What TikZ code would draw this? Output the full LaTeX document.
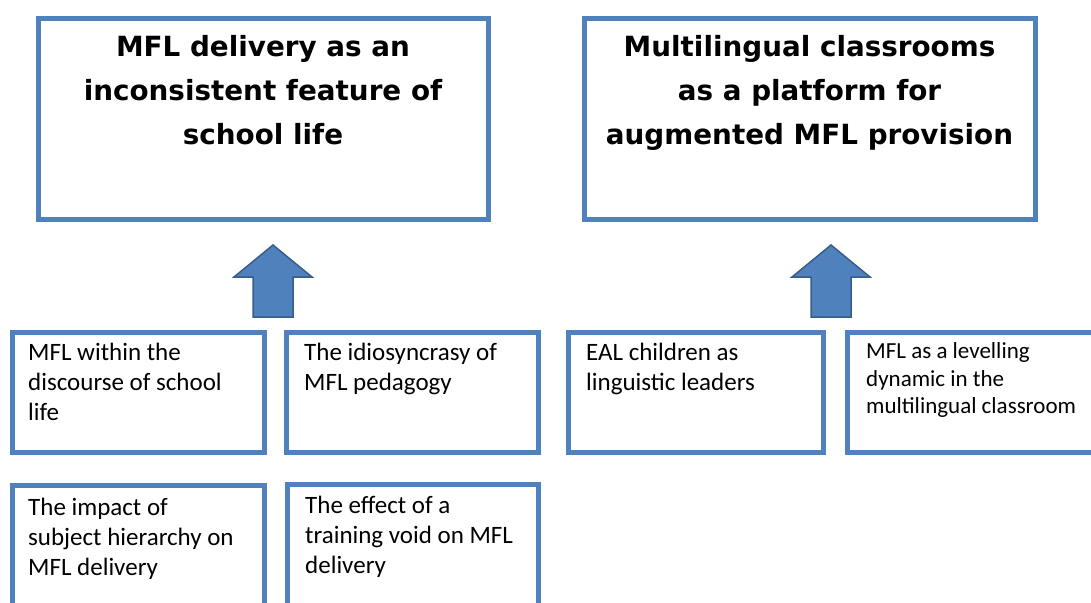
\documentclass[tikz,border=0pt]{standalone}
\usepackage{fontspec}
\setmainfont{Carlito}
\newfontfamily\headfont{DejaVu Sans}
\usepackage{tikz}
\usetikzlibrary{positioning}
\definecolor{boxblue}{HTML}{4F81BD}
\definecolor{arrowedge}{HTML}{385D8A}

\begin{document}
\begin{tikzpicture}[x=1pt,y=-1pt,
  themebox/.style={draw=boxblue,line width=5pt,rectangle,inner sep=0pt,outer sep=0pt,anchor=north west},
  headtext/.style={align=center,inner sep=0pt,font={\headfont\bfseries\fontsize{27.8}{44}\selectfont},execute at begin node=\strut},
  subtext/.style={align=left,inner sep=0pt,font={\fontsize{25}{30}\selectfont},execute at begin node=\strut},
  smalltext/.style={align=left,inner sep=0pt,font={\fontsize{23}{27.5}\selectfont},execute at begin node=\strut},
  uparrow/.style={fill=boxblue,draw=arrowedge,line width=1.5pt,line join=miter}]

\useasboundingbox (0,0) rectangle (1091,602) ;
\clip (0,0) rectangle (1091,602) ;

\node[themebox,minimum width=450pt,minimum height=200pt] (inconsistent) at (38,19) {} ;
\node[themebox,minimum width=451pt,minimum height=200pt] (platform) at (584,19) {} ;

\node[headtext,below=16pt of inconsistent.north] (inconsistenttxt) {MFL delivery as an\\inconsistent feature of\\school life} ;
\node[headtext,below=16pt of platform.north] (platformtxt) {Multilingual classrooms\\as a platform for\\augmented MFL provision} ;

\coordinate (tipleft) at (273,245) ;
\coordinate (tipright) at (831,245) ;

\draw[uparrow] (tipleft) -- ++(39,32) -- ++(-19,0) -- ++(0,40) -- ++(-40,0) -- ++(0,-40) -- ++(-19,0) -- cycle ;
\draw[uparrow] (tipright) -- ++(39,32) -- ++(-19,0) -- ++(0,40) -- ++(-40,0) -- ++(0,-40) -- ++(-19,0) -- cycle ;

\node[themebox,minimum width=252pt,minimum height=120pt] (discourse) at (12,332) {} ;
\node[themebox,minimum width=252pt,minimum height=120pt] (idiosyncrasy) at (286,332) {} ;
\node[themebox,minimum width=255pt,minimum height=120pt] (leaders) at (568,332) {} ;
\node[themebox,minimum width=260pt,minimum height=120pt] (levelling) at (847,332) {} ;

\node[themebox,minimum width=252pt,minimum height=140pt] (hierarchy) at (12,485) {} ;
\node[themebox,minimum width=251pt,minimum height=140pt] (trainingvoid) at (287,484) {} ;

\node[subtext,below right=11pt and 16pt of discourse.north west] (discoursetxt) {MFL within the\\discourse of school\\life} ;
\node[subtext,below right=11pt and 18pt of idiosyncrasy.north west] (idiosyncrasytxt) {The idiosyncrasy of\\MFL pedagogy} ;
\node[subtext,below right=11pt and 18pt of leaders.north west] (leaderstxt) {EAL children as\\linguistic leaders} ;
\node[smalltext,below right=10.5pt and 19pt of levelling.north west] (levellingtxt) {MFL as a levelling\\dynamic in the\\multilingual classroom} ;

\node[subtext,below right=13pt and 16pt of hierarchy.north west] (hierarchytxt) {The impact of\\subject hierarchy on\\MFL delivery} ;
\node[subtext,below right=12pt and 18pt of trainingvoid.north west] (trainingvoidtxt) {The effect of a\\training void on MFL\\delivery} ;

\end{tikzpicture}
\end{document}
